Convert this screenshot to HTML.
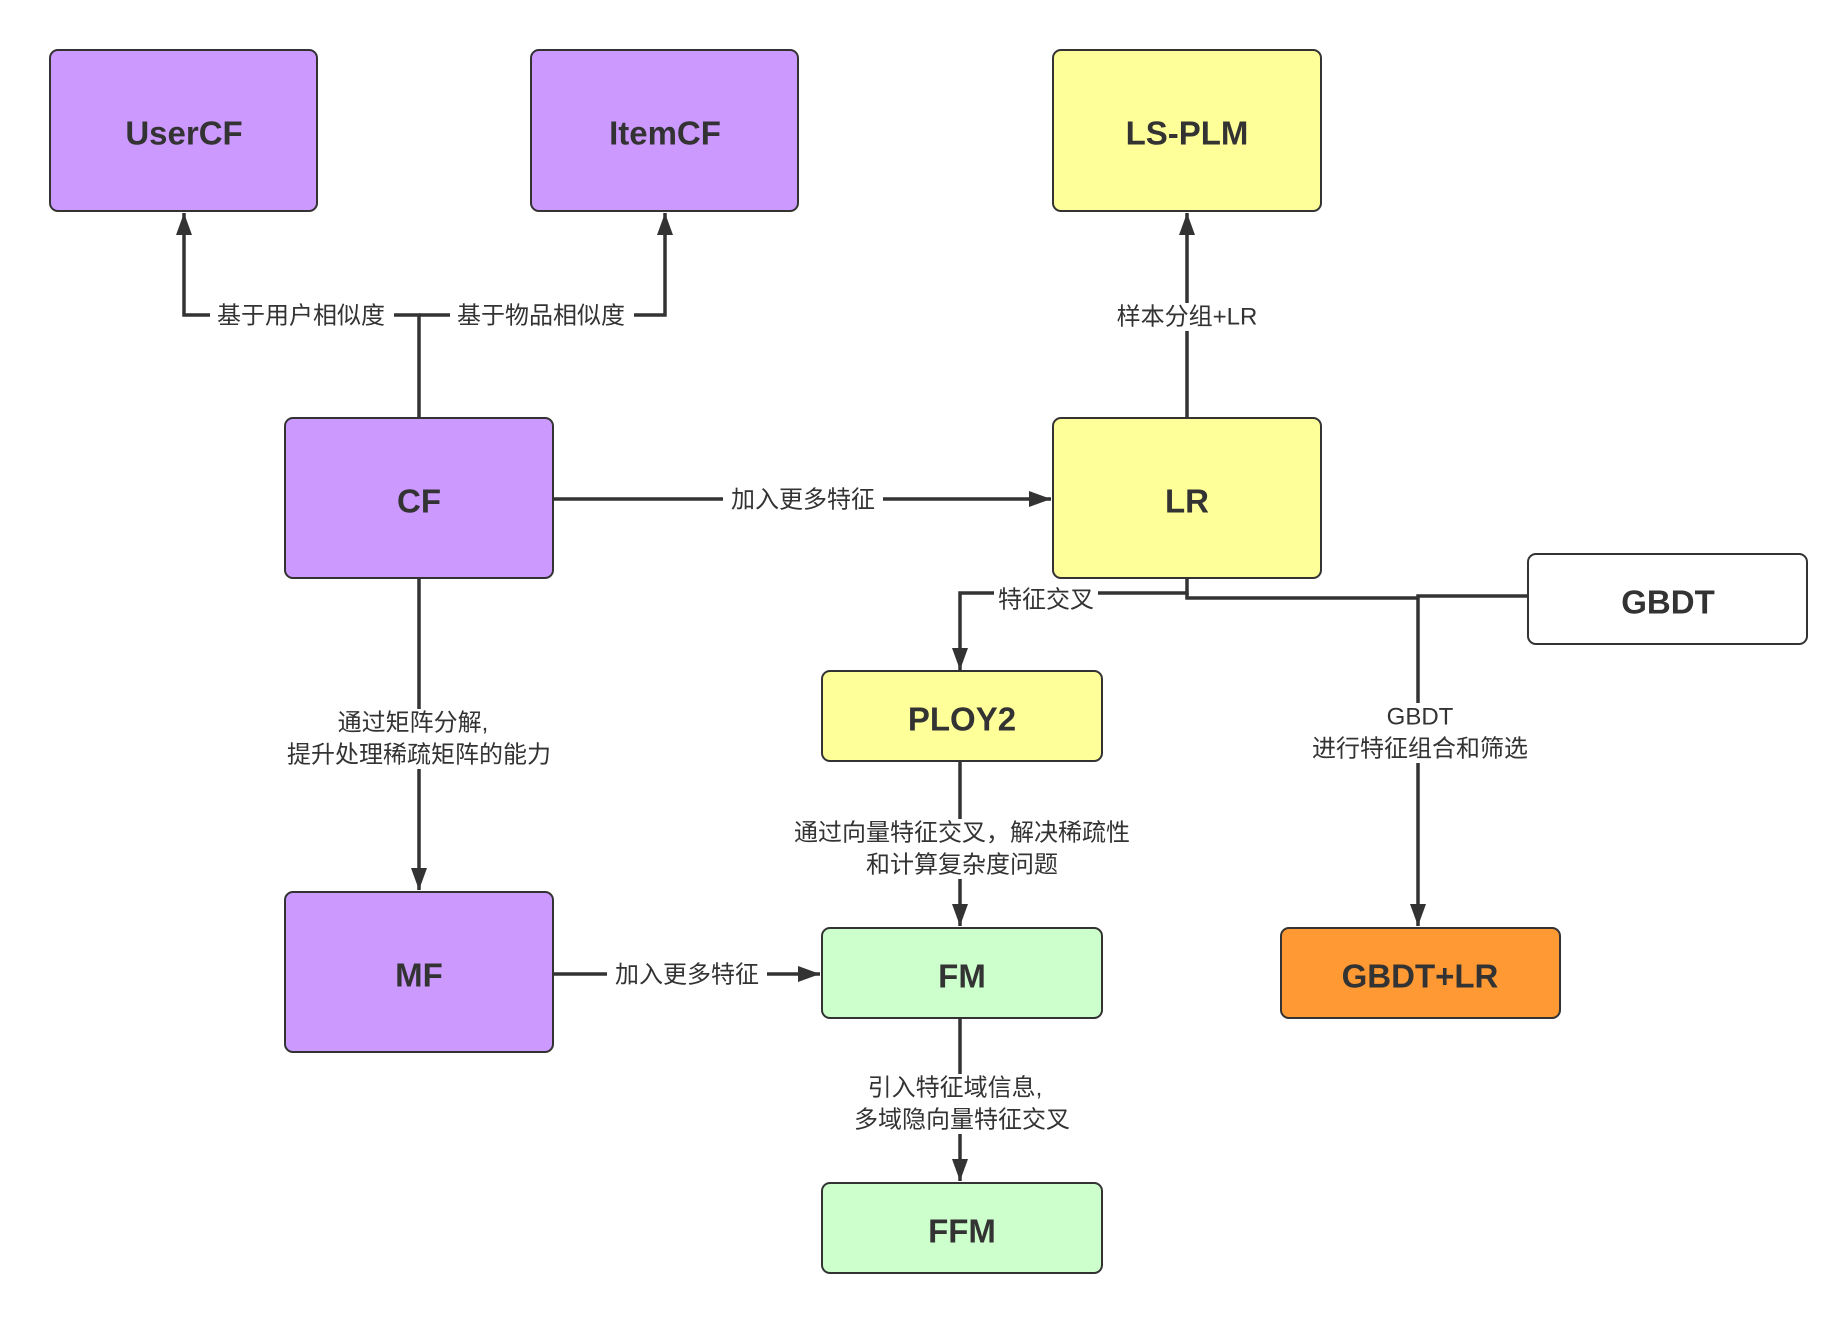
<!DOCTYPE html>
<html><head><meta charset="utf-8"><style>
html,body{margin:0;padding:0;background:#fff;}
svg{display:block;}
.t{font-family:"Liberation Sans","Noto Sans CJK SC",sans-serif;font-weight:bold;font-size:33px;fill:#333;text-anchor:middle;dominant-baseline:central;}
.l{font-family:"Liberation Sans","Noto Sans CJK SC",sans-serif;font-size:24px;fill:#333;text-anchor:middle;dominant-baseline:central;}
.bg{fill:#fff;}
</style></head><body>
<svg width="1848" height="1317" viewBox="0 0 1848 1317" xmlns="http://www.w3.org/2000/svg">
<defs><marker id="a" markerWidth="10" markerHeight="10" refX="9" refY="5" orient="auto" markerUnits="userSpaceOnUse" viewBox="0 0 10 10"><path d="M0,0 L10,5 L0,10 z" fill="#333"/></marker>
<marker id="b" markerWidth="22" markerHeight="22" refX="22" refY="11" orient="auto" markerUnits="userSpaceOnUse"><path d="M0,3 L22,11 L0,19 z" fill="#333"/></marker></defs>
<g fill="none" stroke="#333" stroke-width="3.5">
<path d="M419,418 V315 H184 V213" marker-end="url(#b)"/>
<path d="M419,315 H665 V213" marker-end="url(#b)"/>
<path d="M1187,418 V213" marker-end="url(#b)"/>
<path d="M553,499 H1051" marker-end="url(#b)"/>
<path d="M1187,578 V593 H960 V670" marker-end="url(#b)"/>
<path d="M1187,593 V598 H1418"/>
<path d="M1528,596 H1418 V926" marker-end="url(#b)"/>
<path d="M419,578 V890" marker-end="url(#b)"/>
<path d="M960,762 V926" marker-end="url(#b)"/>
<path d="M553,974 H820" marker-end="url(#b)"/>
<path d="M960,1018 V1181" marker-end="url(#b)"/>
</g>
<g stroke="#333" stroke-width="2">
<rect x="50" y="50" width="267" height="161" rx="8" fill="#CC99FF"/>
<rect x="531" y="50" width="267" height="161" rx="8" fill="#CC99FF"/>
<rect x="1053" y="50" width="268" height="161" rx="8" fill="#FFFF99"/>
<rect x="285" y="418" width="268" height="160" rx="8" fill="#CC99FF"/>
<rect x="1053" y="418" width="268" height="160" rx="8" fill="#FFFF99"/>
<rect x="1528" y="554" width="279" height="90" rx="8" fill="#fff"/>
<rect x="822" y="671" width="280" height="90" rx="8" fill="#FFFF99"/>
<rect x="285" y="892" width="268" height="160" rx="8" fill="#CC99FF"/>
<rect x="822" y="928" width="280" height="90" rx="8" fill="#CCFFCC"/>
<rect x="1281" y="928" width="279" height="90" rx="8" fill="#FF9933"/>
<rect x="822" y="1183" width="280" height="90" rx="8" fill="#CCFFCC"/>
</g>
<text class="t" x="184" y="133">UserCF</text>
<text class="t" x="665" y="133">ItemCF</text>
<text class="t" x="1187" y="133">LS-PLM</text>
<text class="t" x="419" y="501">CF</text>
<text class="t" x="1187" y="501">LR</text>
<text class="t" x="1668" y="602">GBDT</text>
<text class="t" x="962" y="719">PLOY2</text>
<text class="t" x="419" y="975">MF</text>
<text class="t" x="962" y="976">FM</text>
<text class="t" x="1420" y="976">GBDT+LR</text>
<text class="t" x="962" y="1231">FFM</text>
<g>
<rect class="bg" x="210" y="302" width="184" height="28"/><text class="l" x="301" y="316">基于用户相似度</text>
<rect class="bg" x="450" y="302" width="184" height="28"/><text class="l" x="541" y="316">基于物品相似度</text>
<rect class="bg" x="1110" y="303" width="154" height="28"/><text class="l" x="1187" y="317">样本分组+LR</text>
<rect class="bg" x="723" y="485" width="160" height="28"/><text class="l" x="803" y="500">加入更多特征</text>
<rect class="bg" x="994" y="586" width="104" height="28"/><text class="l" x="1046" y="600">特征交叉</text>
<rect class="bg" x="1300" y="703" width="240" height="60"/><text class="l" x="1420" y="717">GBDT</text><text class="l" x="1420" y="749">进行特征组合和筛选</text>
<rect class="bg" x="270" y="709" width="300" height="60"/><text class="l" x="413" y="723">通过矩阵分解,</text><text class="l" x="419" y="755">提升处理稀疏矩阵的能力</text>
<rect class="bg" x="775" y="819" width="372" height="60"/><text class="l" x="962" y="833">通过向量特征交叉，解决稀疏性</text><text class="l" x="962" y="865">和计算复杂度问题</text>
<rect class="bg" x="607" y="960" width="160" height="28"/><text class="l" x="687" y="975">加入更多特征</text>
<rect class="bg" x="840" y="1074" width="244" height="60"/><text class="l" x="955" y="1088">引入特征域信息,</text><text class="l" x="962" y="1120">多域隐向量特征交叉</text>
</g>
</svg>
</body></html>
